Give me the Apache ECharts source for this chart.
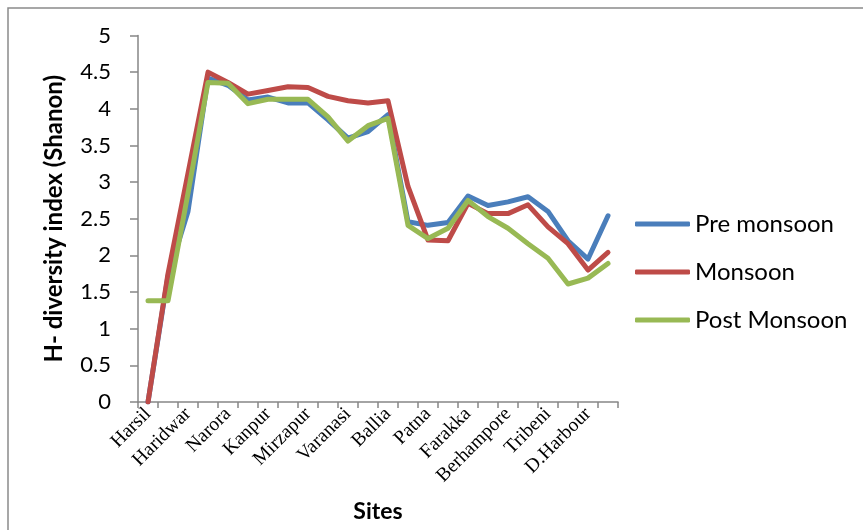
<!DOCTYPE html>
<html>
<head>
<meta charset="utf-8">
<script src="https://cdn.jsdelivr.net/npm/echarts@6/dist/echarts.min.js"></script>
<style>html,body{margin:0;padding:0;background:#fff}#c{width:863px;height:530px}</style>
</head>
<body>
<div id="c"></div>
<script>
// Categories (24 sampling points; only every other one labelled)
const sites = ['Harsil','','Haridwar','','Narora','','Kanpur','','Mirzapur','','Varanasi','','Ballia','','Patna','','Farakka','','Berhampore','','Tribeni','','D.Harbour',''];
const yTicks = [0, 0.5, 1, 1.5, 2, 2.5, 3, 3.5, 4, 4.5, 5];
const preMonsoon  = [0, 1.72, 2.6, 4.42, 4.32, 4.12, 4.16, 4.08, 4.08, 3.85, 3.6, 3.69, 3.92, 2.46, 2.41, 2.45, 2.81, 2.68, 2.73, 2.8, 2.6, 2.2, 1.95, 2.54];
const monsoon     = [0, 1.75, 3.12, 4.5, 4.36, 4.2, 4.25, 4.3, 4.29, 4.17, 4.11, 4.08, 4.11, 2.94, 2.21, 2.2, 2.71, 2.57, 2.57, 2.69, 2.39, 2.16, 1.8, 2.04];
const postMonsoon = [1.38, 1.38, 2.85, 4.36, 4.35, 4.07, 4.13, 4.13, 4.13, 3.89, 3.56, 3.77, 3.87, 2.41, 2.23, 2.37, 2.75, 2.53, 2.37, 2.16, 1.96, 1.61, 1.69, 1.89];
const seriesNames = ['Pre monsoon', 'Monsoon', 'Post Monsoon'];
const colors = ['#4A7EBB', '#BE4B48', '#98B954'];

const chart = echarts.init(document.getElementById('c'), null, {renderer: 'canvas'});
const mk = (name, data, color) => ({
  name, type: 'line', data, symbol: 'none', smooth: false,
  lineStyle: {color, width: 5, cap: 'round', join: 'round'},
  itemStyle: {color}
});
chart.setOption({
  animation: false,
  graphic: [{
    type: 'rect', shape: {x: 8, y: 8, width: 900, height: 600},
    style: {fill: 'none', stroke: '#8a8a8a', lineWidth: 1.5}, silent: true, z: -1
  }],
  grid: {left: 138, right: 245, top: 35.5, bottom: 128, outerBoundsMode: 'none'},
  legend: {
    orient: 'vertical', left: 630, top: 207, itemWidth: 55, itemHeight: 5, itemGap: 24,
    symbolKeepAspect: false,
    data: seriesNames.map((n, i) => ({name: n, icon: 'roundRect', itemStyle: {color: colors[i]}})),
    textStyle: {fontFamily: 'Lato', fontSize: 24, color: '#000', lineHeight: 24}
  },
  xAxis: {
    type: 'category', data: sites, boundaryGap: true,
    name: 'Sites', nameLocation: 'middle', nameGap: 98, nameMoveOverlap: false,
    nameTextStyle: {fontFamily: 'Lato', fontWeight: 'bold', fontSize: 23, color: '#000'},
    axisLine: {lineStyle: {color: '#868686', width: 1.5}},
    axisTick: {show: true, interval: 0, length: 6, inside: false, lineStyle: {color: '#868686', width: 1.5}},
    axisLabel: {interval: 0, rotate: 45, margin: 9, fontFamily: 'Liberation Serif', fontSize: 19.5, color: '#000'}
  },
  yAxis: {
    type: 'value', min: yTicks[0], max: yTicks[yTicks.length - 1], interval: 0.5,
    name: 'H- diversity index (Shanon)', nameLocation: 'middle', nameGap: 72, nameMoveOverlap: false,
    nameTextStyle: {fontFamily: 'Lato', fontWeight: 'bold', fontSize: 24, color: '#000'},
    splitLine: {show: false},
    axisLine: {show: true, lineStyle: {color: '#868686', width: 1.5}},
    axisTick: {show: true, length: 8, lineStyle: {color: '#868686', width: 1.5}},
    axisLabel: {margin: 27, fontFamily: 'Lato', fontSize: 22, color: '#000'}
  },
  series: [
    mk(seriesNames[0], preMonsoon, colors[0]),
    mk(seriesNames[1], monsoon, colors[1]),
    mk(seriesNames[2], postMonsoon, colors[2])
  ]
});
</script>
</body>
</html>
